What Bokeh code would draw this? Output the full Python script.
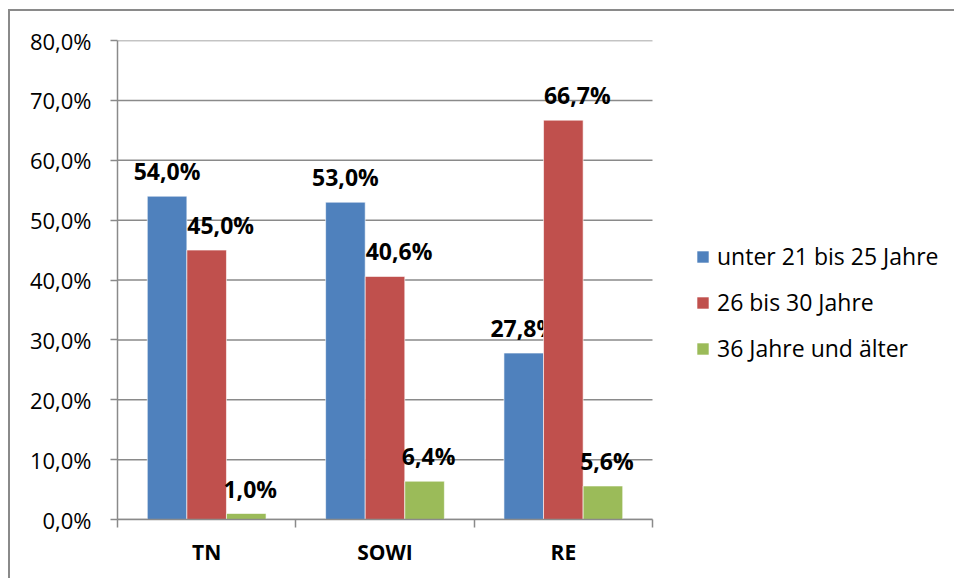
from bokeh.plotting import figure
from bokeh.models import (Range1d, LinearAxis, FixedTicker, ColumnDataSource, Legend,
                          LegendItem)
from bokeh.transform import dodge
from bokeh.core.properties import value
from bokeh.embed import file_html
from bokeh.resources import INLINE

categories = ["TN", "SOWI", "RE"]
series_names = ["unter 21 bis 25 Jahre", "26 bis 30 Jahre", "36 Jahre und älter"]
under_21_25 = [54.0, 53.0, 27.8]
from_26_30 = [45.0, 40.6, 66.7]
from_36 = [1.0, 6.4, 5.6]
y_ticks = [0, 10, 20, 30, 40, 50, 60, 70, 80]
y_tick_labels = ["0,0%", "10,0%", "20,0%", "30,0%", "40,0%", "50,0%", "60,0%", "70,0%", "80,0%"]

series_values = [under_21_25, from_26_30, from_36]
colors = ["#4F81BD", "#C0504D", "#9BBB59"]
offsets = [-0.222, 0.0, 0.222]
label_x_offsets = [0, 14, 4]
FONT = "Open Sans"
GRAY = "#8a8a8a"

# category slots on a numeric axis: centres at 0.5, 1.5, 2.5, boundaries at 0..3
n_cat = len(categories)
cat_centers = [i + 0.5 for i in range(n_cat)]
cat_bounds = list(range(n_cat + 1))

# layout (pixels): plot area 535 px wide, the frame continues to the right for the legend
PLOT_W, FRAME_W = 535, 839
x_end = n_cat * FRAME_W / PLOT_W


def fmt(v):
    return f"{v:.1f}%".replace(".", ",")


p = figure(width=946, height=569, x_range=Range1d(0, x_end), y_range=Range1d(0, 80),
           output_backend="svg", toolbar_location=None,
           x_axis_location=None, y_axis_location=None,
           min_border_left=107, min_border_right=0, min_border_top=29, min_border_bottom=61)
p.outline_line_color = None
p.background_fill_color = "white"
p.border_fill_color = "white"
p.styles = {"border-top": f"2px solid {GRAY}", "border-left": f"2px solid {GRAY}",
            "margin-left": "8px", "margin-top": "9px"}
for g in p.xgrid:
    g.visible = False
for g in p.ygrid:
    g.visible = False

# horizontal gridlines limited to the category area
p.segment(x0=[0] * len(y_ticks), x1=[n_cat] * len(y_ticks), y0=y_ticks, y1=y_ticks,
          line_color=GRAY, line_width=1.5, level="underlay")

yaxis = LinearAxis(ticker=FixedTicker(ticks=y_ticks),
                   major_label_overrides={t: l for t, l in zip(y_ticks, y_tick_labels)},
                   major_tick_out=7, major_tick_in=0, minor_tick_line_color=None,
                   axis_line_color=GRAY, axis_line_width=1.5,
                   major_tick_line_color=GRAY, major_tick_line_width=1.5,
                   major_label_standoff=19, major_label_text_font=FONT,
                   major_label_text_font_size="22px", major_label_text_color="black")
p.add_layout(yaxis, "left")

xaxis = LinearAxis(ticker=FixedTicker(ticks=cat_centers, minor_ticks=cat_bounds),
                   bounds=(0, n_cat),
                   major_label_overrides={c: n for c, n in zip(cat_centers, categories)},
                   major_tick_line_color=None, major_tick_out=0, major_tick_in=0,
                   minor_tick_out=8, minor_tick_in=0, minor_tick_line_color=GRAY,
                   minor_tick_line_width=1.5,
                   axis_line_color=GRAY, axis_line_width=1.5,
                   major_label_standoff=10, major_label_text_font=FONT,
                   major_label_text_font_style="bold", major_label_text_font_size="21px",
                   major_label_text_color="black")
p.add_layout(xaxis, "below")

items = []
for name, vals, col, off, xo in zip(series_names, series_values, colors, offsets, label_x_offsets):
    src = ColumnDataSource(dict(x=cat_centers, val=vals, label=[fmt(v) for v in vals]))
    r = p.vbar(x=dodge("x", off), top="val", width=0.222, source=src,
               fill_color=col, line_color="white", line_alpha=0.6, line_width=1)
    p.text(x=dodge("x", off), y="val", text="label", source=src,
           text_font=value(FONT), text_font_style="bold", text_font_size="23px",
           text_align="center", text_baseline="middle", y_offset=-25, x_offset=xo,
           text_color="black")
    items.append(LegendItem(label=name, renderers=[r]))

legend = Legend(items=items, location=(578, 155), orientation="vertical",
                glyph_width=15, glyph_height=15, label_standoff=7, label_height=26,
                spacing=14, padding=0, margin=0, border_line_color=None,
                background_fill_alpha=0, label_text_font=FONT, label_text_font_size="23px",
                label_text_color="black")
p.add_layout(legend, "center")

open("out.html", "w").write(file_html(p, INLINE))
